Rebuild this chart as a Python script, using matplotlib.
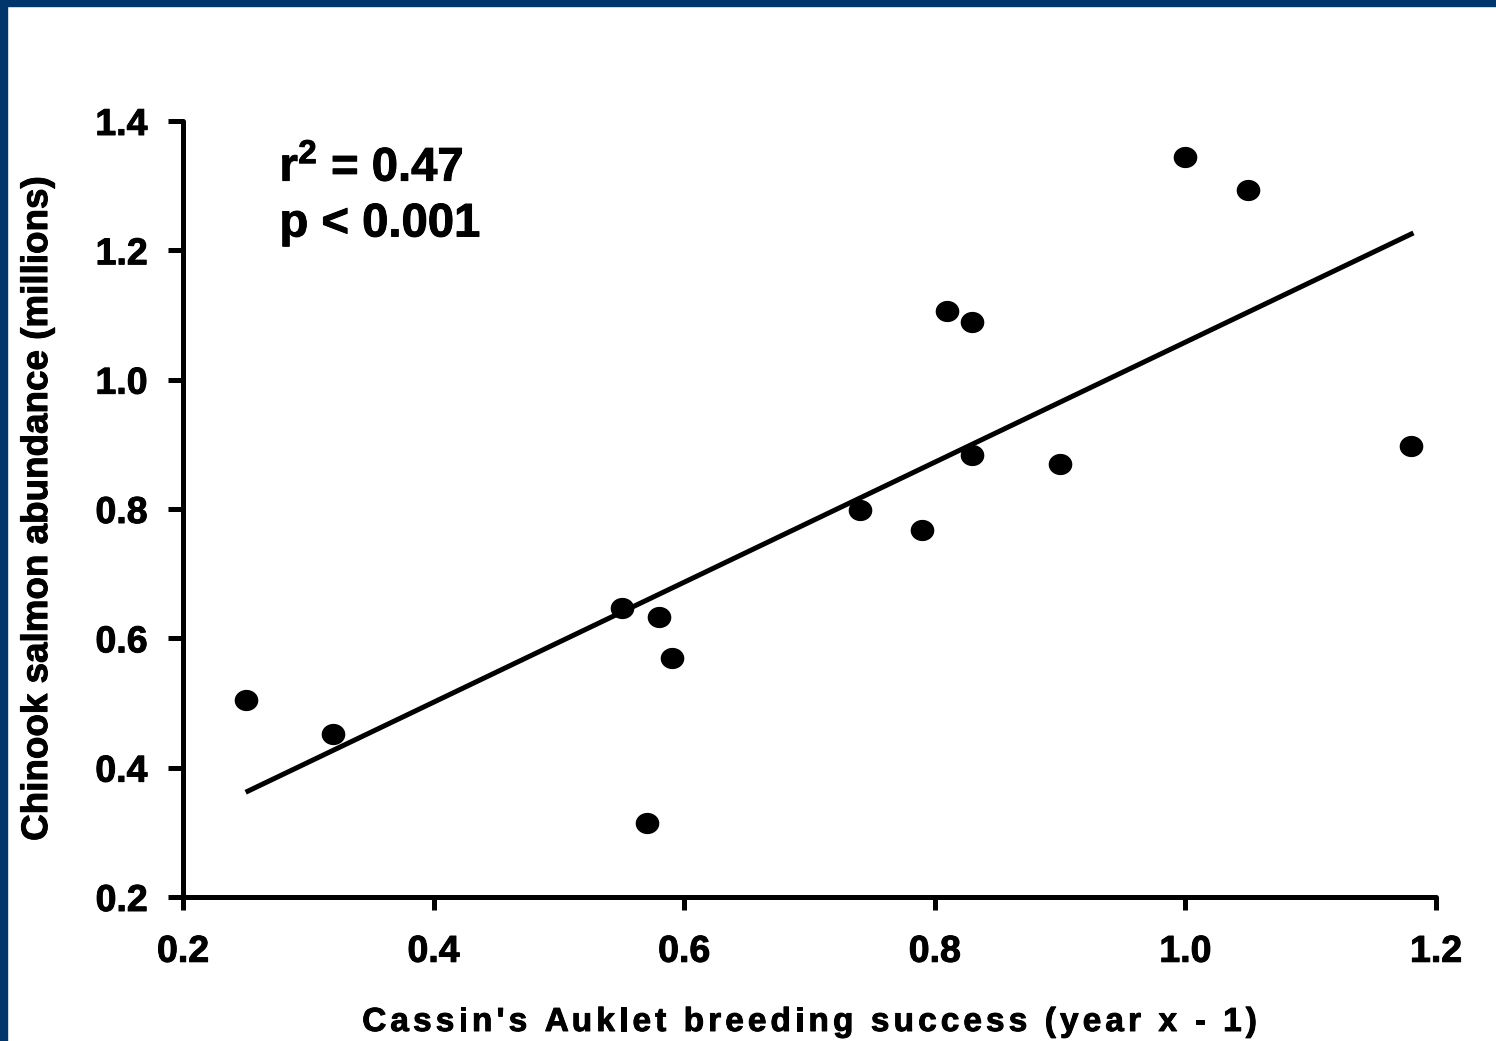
import numpy as np
import matplotlib
matplotlib.use("Agg")
import matplotlib.pyplot as plt
import matplotlib.patheffects as pe
from matplotlib.path import Path
from matplotlib.patches import Rectangle
from matplotlib.font_manager import FontProperties

# Cassin's Auklet breeding success (previous year) vs Chinook salmon abundance
auklet_success = [0.25, 0.32, 0.55, 0.58, 0.59, 0.57, 0.74, 0.79, 0.81, 0.83,
                  0.83, 0.90, 1.00, 1.05, 1.18]
chinook_millions = [0.505, 0.452, 0.647, 0.633, 0.570, 0.314, 0.798, 0.768,
                    1.106, 1.089, 0.883, 0.870, 1.344, 1.293, 0.897]

# Linear fit drawn across the observed range
fit_slope = 0.928
fit_intercept = 0.130
fit_x_range = [0.25, 1.182]

x_ticks = [0.2, 0.4, 0.6, 0.8, 1.0, 1.2]
y_ticks = [0.2, 0.4, 0.6, 0.8, 1.0, 1.2, 1.4]
stats_lines = ["r$^{2}$ = 0.47", "p < 0.001"]
x_title = "Cassin's Auklet breeding success (year x - 1)"
y_title = "Chinook salmon abundance (millions)"

plt.rcParams['font.family'] = ['Liberation Sans', 'DejaVu Sans']
plt.rcParams['font.weight'] = 'bold'
plt.rcParams['mathtext.fontset'] = 'custom'
plt.rcParams['mathtext.rm'] = 'Liberation Sans:bold'
plt.rcParams['mathtext.it'] = 'Liberation Sans:bold'
plt.rcParams['mathtext.bf'] = 'Liberation Sans:bold'

# slightly heavier strokes for all text
heavy = [pe.withStroke(linewidth=0.7, foreground='black')]

W, H = 1496, 1041
fig = plt.figure(figsize=(W / 100, H / 100), dpi=100)
fig.patch.set_facecolor('white')

# frame bands along the top and left edge
frame_col = '#00366B'
fig.patches.append(Rectangle((0, 1 - 6 / H), 1, 6 / H, transform=fig.transFigure,
                             color=frame_col, zorder=0))
fig.patches.append(Rectangle((0, 0), 7 / W, 1, transform=fig.transFigure,
                             color=frame_col, zorder=0))

ax = fig.add_axes([183 / W, 1 - 897 / H, (1436 - 183) / W, (897 - 121) / H])
ax.set_xlim(0.2, 1.2)
ax.set_ylim(0.2, 1.4)

# slightly wide elliptical marker
t = np.linspace(0, 2 * np.pi, 60)
ellipse = Path(np.column_stack([1.12 * np.cos(t), np.sin(t)]), closed=True)

fx = np.array(fit_x_range)
ax.plot(fx, fit_intercept + fit_slope * fx, color='black', lw=3.6,
        solid_capstyle='butt', zorder=2)
ax.plot(auklet_success, chinook_millions, linestyle='none', marker=ellipse,
        markersize=16, color='black', zorder=3, clip_on=False)

for s in ['top', 'right']:
    ax.spines[s].set_visible(False)
for s in ['left', 'bottom']:
    ax.spines[s].set_linewidth(3.6)
    ax.spines[s].set_capstyle('round')

ax.set_xticks(x_ticks)
ax.set_yticks(y_ticks)
ax.set_xticklabels([f"{v:.1f}" for v in x_ticks])
ax.set_yticklabels([f"{v:.1f}" for v in y_ticks])
ax.tick_params(axis='both', direction='out', width=3.6, labelsize=27, colors='black')
ax.tick_params(axis='y', length=10.5, pad=15)
ax.tick_params(axis='x', length=9.5, pad=17)
for lab in ax.get_xticklabels() + ax.get_yticklabels():
    lab.set_fontweight('bold')
    lab.set_path_effects(heavy)

ax.set_ylabel(y_title, fontsize=26.5, fontweight='bold', labelpad=29,
              path_effects=heavy)

for i, line in enumerate(stats_lines):
    ax.text(0.277, 1.362 - 0.088 * i, line, fontsize=34, fontweight='bold',
            va='top', ha='left', path_effects=heavy)

# x-axis title with extra letter spacing, placed glyph by glyph
renderer = fig.canvas.get_renderer()
prop = FontProperties(family=['Liberation Sans', 'DejaVu Sans'], weight='bold', size=24)
spacing_px = 4.1
prefix_w = [renderer.get_text_width_height_descent(x_title[:i], prop, ismath=False)[0]
            if i else 0.0 for i in range(len(x_title) + 1)]
total_w = prefix_w[-1] + spacing_px * (len(x_title) - 1)
ax_bbox = ax.get_position()
center_px = (ax_bbox.x0 + ax_bbox.x1) / 2 * W
start_px = center_px - total_w / 2
baseline_px = H - 1031
for i, ch in enumerate(x_title):
    if ch == ' ':
        continue
    fig.text((start_px + prefix_w[i] + spacing_px * i) / W, baseline_px / H, ch,
             fontproperties=prop, ha='left', va='baseline', path_effects=heavy)

fig.savefig("out.png", dpi=100)
